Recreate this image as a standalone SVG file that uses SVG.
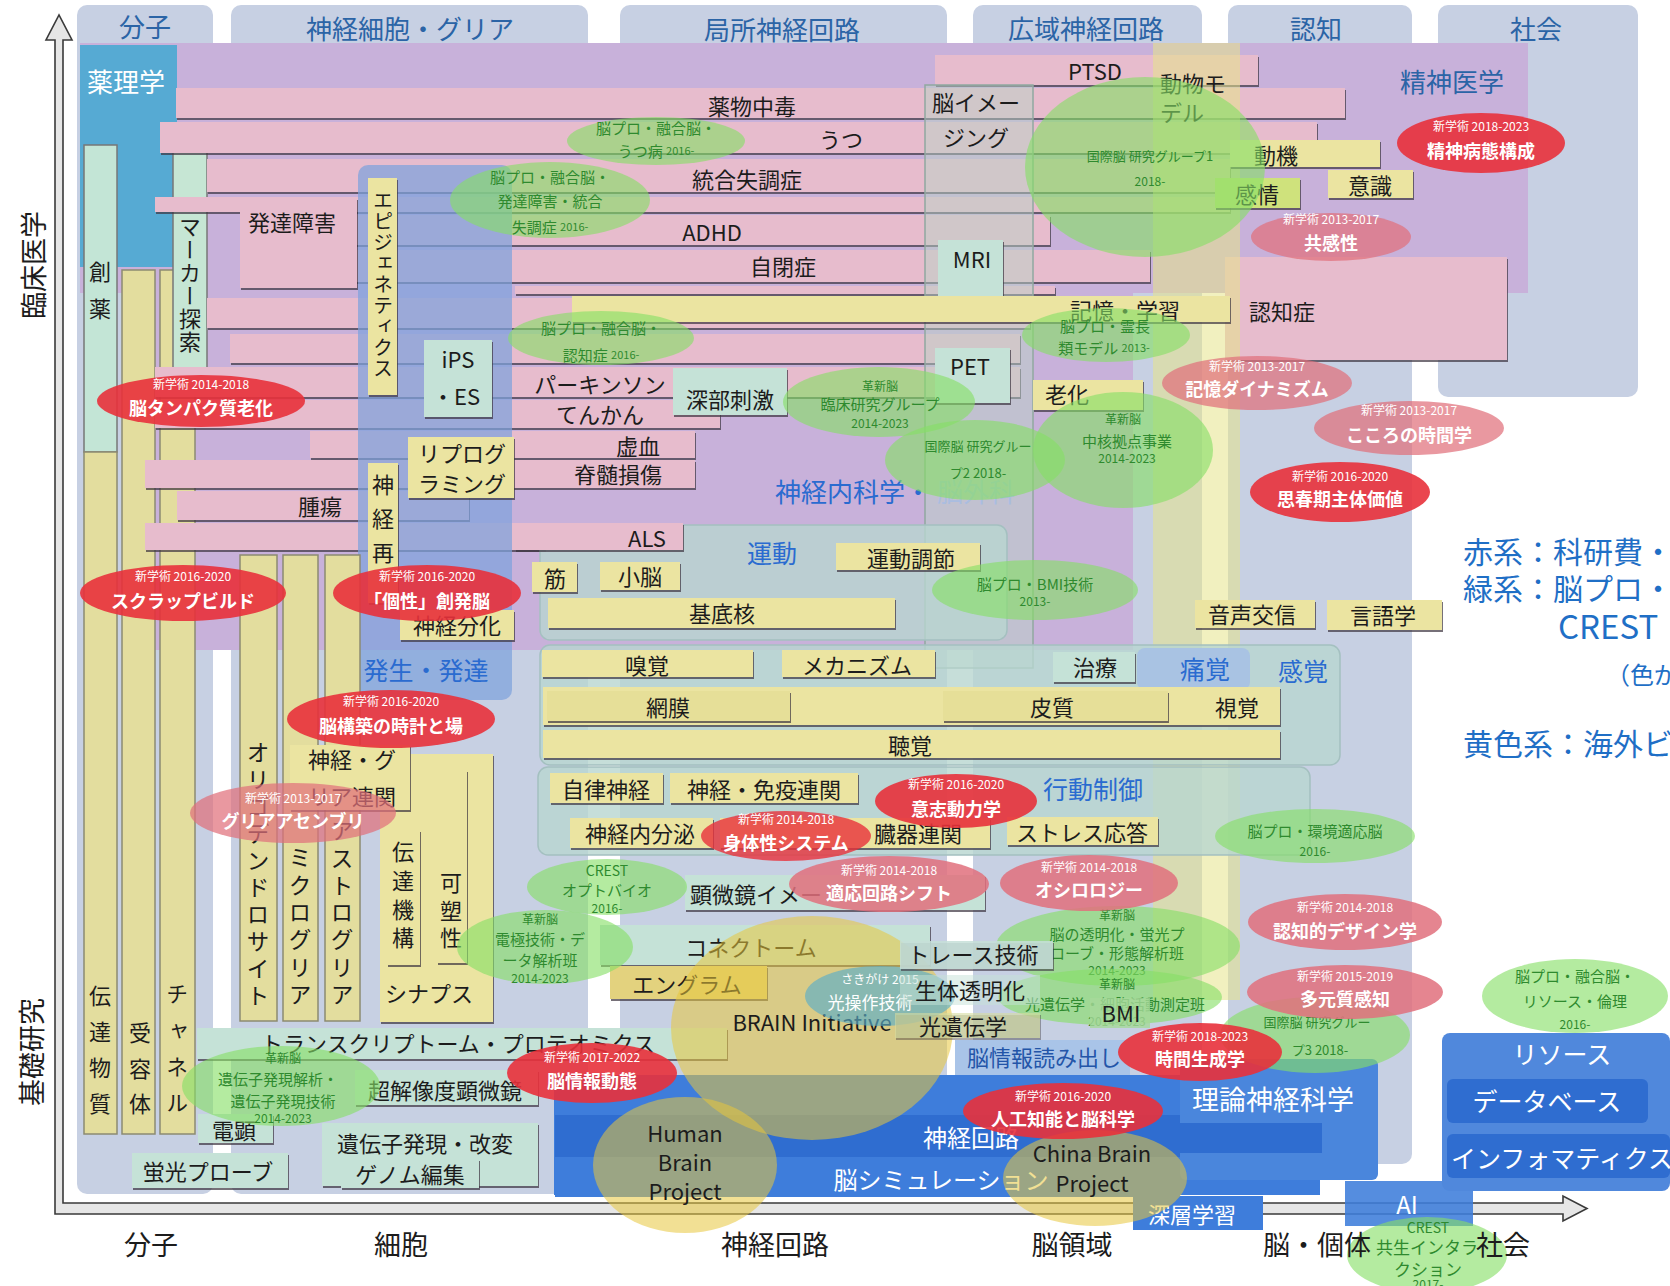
<svg xmlns="http://www.w3.org/2000/svg" width="1670" height="1286" viewBox="0 0 1670 1286">
<defs>
<filter id="sh" x="-10%" y="-30%" width="120%" height="170%">
<feDropShadow dx="1" dy="2" stdDeviation="0.7" flood-color="#3c3440" flood-opacity="0.7"/>
</filter>
</defs>
<style>
text{font-family:"Noto Sans CJK JP","Noto Sans",sans-serif}
.col{fill:#c7d0e3}
.hd{font-size:26px;fill:#2b64a6;text-anchor:middle;dominant-baseline:central}
.pk{fill:#e7bccd;filter:url(#sh)}
.yl{fill:#ebe4a1;filter:url(#sh)}
.yc{fill:#e3dd9e;stroke:#8c8a72;stroke-width:1.5}
.tl{fill:#c5e2d7;filter:url(#sh)}
.reg{fill:#b8d6cf;fill-opacity:.8;stroke:#a4c0c0;stroke-width:1.5}
.bb{fill:#3e7ddb}
.bd{fill:#2f6dd0}
.t{font-size:22px;fill:#1c1c1c;text-anchor:middle;dominant-baseline:central}
.v{font-size:22px;fill:#1c1c1c;writing-mode:vertical-rl}
.ax{font-size:27px;fill:#1c1c1c;text-anchor:middle;dominant-baseline:central}
.bl{font-size:25px;fill:#2a6bd0;text-anchor:middle;dominant-baseline:central}
.wt{font-size:24px;fill:#fff;text-anchor:middle;dominant-baseline:central}
.rd{fill:#e8313b;fill-opacity:.9}
.rf{fill:#e0707c;fill-opacity:.72}
.gr{fill:#86de66;fill-opacity:.62}
.ye{fill:#e8c63c;fill-opacity:.55}
.s{font-size:12px;fill:#fff;text-anchor:middle;dominant-baseline:central}
.m{font-size:18px;fill:#fff;font-weight:bold;text-anchor:middle;dominant-baseline:central}
.g{font-size:15px;fill:#2e8a2e;text-anchor:middle;dominant-baseline:central}
.gs{font-size:12px;fill:#2e8a2e;text-anchor:middle;dominant-baseline:central}
.lg{font-size:30px;fill:#1f6fc6;dominant-baseline:central}
</style>
<rect width="1670" height="1286" fill="#fff"/>

<g id="columns">
<rect class="col" x="77" y="5" width="136" height="1189" rx="10"/>
<rect class="col" x="231" y="5" width="357" height="1189" rx="10"/>
<rect class="col" x="620" y="5" width="327" height="1189" rx="10"/>
<rect class="col" x="973" y="5" width="229" height="1189" rx="10"/>
<rect class="col" x="1228" y="5" width="184" height="1159" rx="10"/>
<rect class="col" x="1438" y="5" width="200" height="392" rx="10"/>
<text class="hd" x="145" y="25">分子</text>
<text class="hd" x="410" y="27">神経細胞・グリア</text>
<text class="hd" x="782" y="28">局所神経回路</text>
<text class="hd" x="1086" y="27">広域神経回路</text>
<text class="hd" x="1316" y="27">認知</text>
<text class="hd" x="1536" y="27">社会</text>
</g>

<g id="psychiatry">
<path d="M80,43 H1528 V293 H1133 V650 H150 V293 H80 Z" fill="#c8b1da"/>
<text class="bl" x="1452" y="80" style="font-size:26px;fill:#2b64a6">精神医学</text>
</g>

<g id="pharmacology">
<rect x="80" y="45" width="97" height="222" fill="#56aad3"/>
<text x="126" y="80" font-size="26" fill="#fff" text-anchor="middle" dominant-baseline="central">薬理学</text>
</g>

<g id="left-columns">
<rect x="84" y="145" width="33" height="307" fill="#c3e5d6" stroke="#777" stroke-width="1.5"/>
<text class="v" x="100" y="261" style="letter-spacing:15px">創薬</text>
<rect class="yc" x="84" y="452" width="33" height="682"/>
<rect class="yc" x="122" y="270" width="33" height="864"/>
<rect class="yc" x="160" y="270" width="35" height="864"/>
<rect x="173" y="125" width="34" height="245" fill="#c6e6d4" stroke="#777" stroke-width="1.5"/>
<text class="v" x="190" y="216" style="letter-spacing:1px">マーカー探索</text>
<text class="v" x="100" y="985" style="letter-spacing:14px">伝達物質</text>
<text class="v" x="140" y="1022" style="letter-spacing:13.5px">受容体</text>
<text class="v" x="177" y="983" style="letter-spacing:14.3px">チャネル</text>
</g>

<g id="disease-bars">
<rect class="pk" x="176" y="88" width="1169" height="30"/>
<rect class="pk" x="160" y="122" width="1157" height="31"/>
<rect class="pk" x="207" y="159" width="1023" height="33"/>
<rect class="pk" x="155" y="197" width="1075" height="15"/>
<rect class="pk" x="240" y="215" width="810" height="30"/>
<rect class="pk" x="240" y="250" width="910" height="32"/>
<rect class="pk" x="515" y="286" width="540" height="8"/>
<rect class="pk" x="207" y="298" width="823" height="30"/>
<rect class="pk" x="230" y="334" width="790" height="29"/>
<rect class="pk" x="155" y="367" width="865" height="30"/>
<rect class="pk" x="155" y="400" width="565" height="28"/>
<rect class="pk" x="310" y="431" width="385" height="27"/>
<rect class="pk" x="145" y="460" width="550" height="28"/>
<rect class="pk" x="177" y="491" width="292" height="29"/>
<rect class="pk" x="145" y="523" width="400" height="27"/>
<rect class="pk" x="935" y="55" width="323" height="30"/>
<rect class="pk" x="1225" y="257" width="282" height="103"/>
<rect class="pk" x="240" y="198" width="117" height="90"/>
<text class="t" x="752" y="105">薬物中毒</text>
<text class="t" x="841" y="138">うつ</text>
<text class="t" x="747" y="178">統合失調症</text>
<text class="t" x="712" y="231">ADHD</text>
<text class="t" x="783" y="265">自閉症</text>
<text class="t" x="1095" y="70">PTSD</text>
<text class="t" x="1282" y="310">認知症</text>
<text class="t" x="292" y="221">発達障害</text>
<text class="t" x="600" y="383">パーキンソン</text>
<text class="t" x="600" y="413">てんかん</text>
<text class="t" x="638" y="445">虚血</text>
<text class="t" x="618" y="473">脊髄損傷</text>
<text class="t" x="320" y="505">腫瘍</text>
</g>

<g id="animal-model">
<rect x="1153" y="43" width="87" height="957" fill="#e6e48a" fill-opacity=".55"/>
<text class="t" x="1160" y="82" style="text-anchor:start">動物モ</text>
<text class="t" x="1160" y="111" style="text-anchor:start">デル</text>
</g>

<g id="brain-imaging">
<rect x="925" y="85" width="108" height="583" fill="#b9d2c6" fill-opacity=".5" stroke="#90a8a0" stroke-width="1.5"/>
<text class="t" x="976" y="101">脳イメー</text>
<text class="t" x="976" y="136">ジング</text>
<rect class="tl" x="938" y="240" width="65" height="60"/>
<text class="t" x="972" y="258">MRI</text>
<rect class="tl" x="935" y="348" width="75" height="55"/>
<text class="t" x="970" y="365">PET</text>
</g>

<g id="cognition-bars">
<rect class="yl" x="572" y="296" width="658" height="26"/>
<text class="t" x="1125" y="309">記憶・学習</text>
<rect class="yl" x="1033" y="380" width="110" height="30"/>
<text class="t" x="1067" y="393">老化</text>
<rect class="yl" x="1230" y="140" width="150" height="27"/>
<text class="t" x="1276" y="154">動機</text>
<rect class="yl" x="1328" y="170" width="85" height="28"/>
<text class="t" x="1370" y="184">意識</text>
<rect x="1215" y="178" width="85" height="30" fill="#cfe27c" filter="url(#sh)"/>
<text class="t" x="1257" y="193">感情</text>
<rect class="yl" x="1195" y="600" width="120" height="28"/>
<text class="t" x="1252" y="613">音声交信</text>
<rect class="yl" x="1327" y="600" width="115" height="30"/>
<text class="t" x="1383" y="614">言語学</text>
</g>

<g id="deep-stim">
<rect class="tl" x="673" y="368" width="114" height="47"/>
<text class="t" x="730" y="398">深部刺激</text>
</g>

<g id="development">
<rect x="358" y="165" width="154" height="535" rx="10" fill="#7ea2dc" fill-opacity=".72"/>
<rect class="yl" x="368" y="178" width="29" height="217"/>
<text class="v" x="383" y="190" style="font-size:20px;letter-spacing:1px">エピジェネティクス</text>
<rect class="tl" x="424" y="340" width="68" height="77"/>
<text class="t" x="458" y="358">iPS</text>
<text class="t" x="456" y="395">・ES</text>
<rect class="yl" x="408" y="437" width="106" height="61"/>
<text class="t" x="462" y="452">リプログ</text>
<text class="t" x="462" y="482">ラミング</text>
<rect class="yl" x="368" y="463" width="30" height="140"/>
<text class="v" x="383" y="474" style="letter-spacing:12px">神経再</text>
<rect class="yl" x="400" y="610" width="114" height="30"/>
<text class="t" x="457" y="624">神経分化</text>
<text class="bl" x="426" y="669">発生・発達</text>
</g>

<g id="neurology-label">
<text class="bl" x="775" y="490" style="text-anchor:start;font-size:26px">神経内科学・</text>
<text class="bl" x="937" y="490" style="text-anchor:start;font-size:26px;fill:#aabde0">脳外科</text>
</g>

<g id="motor">
<rect class="reg" x="540" y="525" width="467" height="115" rx="10"/>
<rect class="pk" x="515" y="523" width="168" height="27"/>
<text class="t" x="647" y="537">ALS</text>
<text class="bl" x="772" y="552">運動</text>
<rect class="yl" x="532" y="562" width="45" height="30"/>
<text class="t" x="555" y="577">筋</text>
<rect class="yl" x="600" y="562" width="80" height="28"/>
<text class="t" x="640" y="575">小脳</text>
<rect class="yl" x="548" y="598" width="347" height="30"/>
<text class="t" x="722" y="612">基底核</text>
<rect class="yl" x="836" y="543" width="144" height="27"/>
<text class="t" x="911" y="557">運動調節</text>
</g>

<g id="sensory">
<rect class="reg" x="540" y="645" width="800" height="120" rx="10"/>
<rect x="1137" y="648" width="113" height="42" rx="8" fill="#a9c3e3"/>
<text class="bl" x="1205" y="668">痛覚</text>
<text class="bl" x="1303" y="670">感覚</text>
<rect class="yl" x="542" y="650" width="211" height="27"/>
<text class="t" x="647" y="664">嗅覚</text>
<rect class="yl" x="782" y="650" width="153" height="27"/>
<text class="t" x="857" y="664">メカニズム</text>
<rect class="tl" x="1053" y="652" width="82" height="30"/>
<text class="t" x="1095" y="666">治療</text>
<rect class="yl" x="543" y="687" width="737" height="38"/>
<rect x="547" y="691" width="243" height="30" fill="#e6df98" filter="url(#sh)"/>
<rect x="943" y="691" width="225" height="30" fill="#e6df98" filter="url(#sh)"/>
<text class="t" x="668" y="706">網膜</text>
<text class="t" x="1052" y="706">皮質</text>
<text class="t" x="1237" y="706">視覚</text>
<rect class="yl" x="543" y="730" width="737" height="28"/>
<text class="t" x="910" y="744">聴覚</text>
</g>

<g id="behavior">
<rect class="reg" x="538" y="767" width="772" height="88" rx="10"/>
<text class="bl" x="1093" y="788">行動制御</text>
<rect class="yl" x="550" y="773" width="113" height="30"/>
<text class="t" x="606" y="788">自律神経</text>
<rect class="yl" x="670" y="773" width="188" height="30"/>
<text class="t" x="764" y="788">神経・免疫連関</text>
<rect class="yl" x="570" y="818" width="143" height="30"/>
<text class="t" x="640" y="832">神経内分泌</text>
<rect class="yl" x="720" y="818" width="270" height="30"/>
<text class="t" x="918" y="832">臓器連関</text>
<rect class="yl" x="1007" y="817" width="151" height="28"/>
<text class="t" x="1082" y="831">ストレス応答</text>
</g>

<g id="glia">
<rect class="yc" x="240" y="555" width="37" height="466"/>
<rect class="yc" x="283" y="555" width="35" height="466"/>
<rect class="yc" x="325" y="555" width="35" height="466"/>
<text class="v" x="258" y="741" style="font-size:23px;letter-spacing:4px">オリゴデンドロサイト</text>
<text class="v" x="300" y="846" style="font-size:23px;letter-spacing:4.4px">ミクログリア</text>
<text class="v" x="342" y="819" style="font-size:23px;letter-spacing:4.3px">アストログリア</text>
<rect class="yl" x="380" y="754" width="113" height="268"/>
<rect class="yl" x="290" y="745" width="120" height="65"/>
<text class="t" x="352" y="758">神経・グ</text>
<text class="t" x="352" y="795">リア連関</text>
<rect class="yl" x="387" y="830" width="33" height="135"/>
<text class="v" x="403" y="841" style="letter-spacing:6.7px">伝達機構</text>
<rect class="yl" x="437" y="770" width="30" height="193"/>
<text class="v" x="451" y="872" style="letter-spacing:5.5px">可塑性</text>
<text class="t" x="429" y="992">シナプス</text>
</g>

<g id="tech-rows">
<rect class="tl" x="685" y="875" width="300" height="35"/>
<text class="t" x="690" y="893" style="text-anchor:start">顕微鏡イメー</text>
<rect class="tl" x="600" y="925" width="330" height="40"/>
<text class="t" x="751" y="946">コネクトーム</text>
<rect x="610" y="966" width="157" height="33" fill="#e3d27e" filter="url(#sh)"/>
<text class="t" x="687" y="983">エングラム</text>
<rect class="tl" x="197" y="1028" width="530" height="31"/>
<text class="t" x="458" y="1042">トランスクリプトーム・プロテオミクス</text>
<rect class="tl" x="355" y="1070" width="183" height="35"/>
<text class="t" x="445" y="1089">超解像度顕微鏡</text>
<rect class="tl" x="322" y="1123" width="216" height="63"/>
<text class="t" x="425" y="1142">遺伝子発現・改変</text>
<rect class="tl" x="341" y="1159" width="138" height="29"/>
<text class="t" x="410" y="1173">ゲノム編集</text>
<rect class="tl" x="198" y="1114" width="75" height="29"/>
<text class="t" x="234" y="1129">電顕</text>
<rect class="tl" x="132" y="1153" width="156" height="35"/>
<text class="t" x="208" y="1170">蛍光プローブ</text>
</g>

<g id="axes">
<path d="M55,1214 L55,40 L46,40 L59,15 L72,40 L63,40 L63,1203 L1563,1203 L1563,1196 L1587,1208.5 L1563,1221 L1563,1214 Z" fill="#e6e6e6" stroke="#3a3a3a" stroke-width="1.6"/>
</g>

<g id="computation">
<rect class="bb" x="554" y="1075" width="766" height="120"/>
<rect class="bd" x="555" y="1115" width="767" height="42"/>
<rect class="bb" x="555" y="1160" width="625" height="37"/>
<text class="wt" x="923" y="1136" style="text-anchor:start">神経回路</text>
<text class="wt" x="941" y="1178">脳シミュレーション</text>
<rect x="1180" y="1059" width="198" height="121" rx="6" fill="#4a86dc"/>
<rect class="bd" x="1180" y="1123" width="142" height="30"/>
<text class="wt" x="1273" y="1098" style="font-size:27px">理論神経科学</text>
<rect x="955" y="1040" width="175" height="35" fill="#a9c4e8"/>
<text class="t" x="1044" y="1056" style="fill:#2355a8">脳情報読み出し</text>
<rect class="bb" x="1133" y="1196" width="130" height="34"/>
<text class="wt" x="1192" y="1213" style="font-size:22px">深層学習</text>
<rect x="1345" y="1181" width="128" height="45" fill="#3e7ddb" fill-opacity=".88"/>
<text class="wt" x="1407" y="1203">AI</text>
</g>

<g id="resource">
<rect x="1442" y="1033" width="228" height="158" rx="8" fill="#5088dc"/>
<text class="wt" x="1562" y="1053" style="font-size:25px">リソース</text>
<rect class="bd" x="1447" y="1079" width="201" height="44" rx="6"/>
<text class="wt" x="1547" y="1100" style="font-size:25px">データベース</text>
<rect class="bd" x="1447" y="1134" width="223" height="44" rx="6"/>
<text class="wt" x="1562" y="1157" style="font-size:25px">インフォマティクス</text>
</g>

<g id="overseas">
<ellipse class="ye" cx="812" cy="1028" rx="141" ry="112"/>
<ellipse class="ye" cx="685" cy="1165" rx="92" ry="68"/>
<ellipse class="ye" cx="1095" cy="1178" rx="92" ry="48"/>
<text class="t" x="812" y="1021">BRAIN Initiative</text>
<text class="t" x="685" y="1132">Human</text>
<text class="t" x="685" y="1161">Brain</text>
<text class="t" x="685" y="1190">Project</text>
<text class="t" x="1092" y="1152">China Brain</text>
<text class="t" x="1092" y="1182">Project</text>
</g>

<g id="green-projects">
<ellipse class="gr" cx="656" cy="141" rx="89" ry="24"/>
<text class="g" x="656" y="127">脳プロ・融合脳・</text>
<text class="g" x="656" y="150">うつ病 <tspan style="font-size:11px">2016-</tspan></text>
<ellipse class="gr" cx="550" cy="200" rx="100" ry="38"/>
<text class="g" x="550" y="176">脳プロ・融合脳・</text>
<text class="g" x="550" y="200">発達障害・統合</text>
<text class="g" x="550" y="226">失調症 <tspan style="font-size:11px">2016-</tspan></text>
<ellipse class="gr" cx="601" cy="338" rx="93" ry="27"/>
<text class="g" x="601" y="327">脳プロ・融合脳・</text>
<text class="g" x="601" y="354">認知症 <tspan style="font-size:11px">2016-</tspan></text>
<ellipse class="gr" cx="1145" cy="167" rx="120" ry="90"/>
<text class="gs" x="1150" y="155" style="font-size:13px">国際脳 研究グループ1</text>
<text class="gs" x="1150" y="180">2018-</text>
<ellipse class="gr" cx="1106" cy="335" rx="84" ry="27"/>
<text class="g" x="1105" y="325">脳プロ・霊長</text>
<text class="g" x="1104" y="347">類モデル <tspan style="font-size:11px">2013-</tspan></text>
<ellipse class="gr" cx="879" cy="402" rx="96" ry="35"/>
<text class="gs" x="880" y="385">革新脳</text>
<text class="g" x="880" y="403">臨床研究グループ</text>
<text class="gs" x="880" y="422">2014-2023</text>
<ellipse class="gr" cx="975" cy="460" rx="90" ry="40"/>
<text class="gs" x="978" y="445" style="font-size:13px">国際脳 研究グルー</text>
<text class="gs" x="978" y="472" style="font-size:13px">プ2 2018-</text>
<ellipse class="gr" cx="1123" cy="450" rx="90" ry="58"/>
<text class="gs" x="1123" y="418">革新脳</text>
<text class="g" x="1127" y="440">中核拠点事業</text>
<text class="gs" x="1127" y="457">2014-2023</text>
<ellipse class="gr" cx="1035" cy="590" rx="103" ry="30"/>
<text class="g" x="1035" y="583">脳プロ・BMI技術</text>
<text class="gs" x="1035" y="600">2013-</text>
<ellipse class="gr" cx="1315" cy="836" rx="100" ry="27"/>
<text class="g" x="1315" y="830">脳プロ・環境適応脳</text>
<text class="gs" x="1315" y="850">2016-</text>
<ellipse class="gr" cx="607" cy="887" rx="80" ry="28"/>
<text class="gs" x="607" y="870" style="font-size:14px">CREST</text>
<text class="g" x="607" y="889">オプトバイオ</text>
<text class="gs" x="607" y="907">2016-</text>
<ellipse class="gr" cx="545" cy="947" rx="88" ry="37"/>
<text class="gs" x="540" y="918">革新脳</text>
<text class="g" x="540" y="938">電極技術・デ</text>
<text class="g" x="540" y="959">ータ解析班</text>
<text class="gs" x="540" y="977">2014-2023</text>
<ellipse class="gr" cx="1118" cy="946" rx="122" ry="40"/>
<text class="gs" x="1117" y="914">革新脳</text>
<text class="g" x="1117" y="933">脳の透明化・蛍光プ</text>
<text class="g" x="1117" y="952">ローブ・形態解析班</text>
<text class="gs" x="1117" y="969">2014-2023</text>
<ellipse class="gr" cx="1110" cy="997" rx="112" ry="28"/>
<text class="gs" x="1117" y="983">革新脳</text>
<text class="g" x="1115" y="1003">光遺伝学・細胞活動測定班</text>
<text class="gs" x="1117" y="1020">2014-2023</text>
<ellipse class="gr" cx="1315" cy="1035" rx="95" ry="38"/>
<text class="gs" x="1317" y="1021" style="font-size:13px">国際脳 研究グルー</text>
<text class="gs" x="1320" y="1049" style="font-size:13px">プ3 2018-</text>
<ellipse class="gr" cx="281" cy="1086" rx="99" ry="40"/>
<text class="gs" x="283" y="1057">革新脳</text>
<text class="g" x="278" y="1078">遺伝子発現解析・</text>
<text class="g" x="283" y="1100">遺伝子発現技術</text>
<text class="gs" x="283" y="1117">2014-2023</text>
<ellipse class="gr" cx="1575" cy="996" rx="93" ry="37"/>
<text class="g" x="1575" y="975">脳プロ・融合脳・</text>
<text class="g" x="1575" y="1000">リソース・倫理</text>
<text class="gs" x="1575" y="1023">2016-</text>
<ellipse class="gr" cx="1427" cy="1255" rx="80" ry="38"/>
<text class="gs" x="1428" y="1227" style="font-size:14px">CREST</text>
<text class="g" x="1427" y="1246" style="font-size:17px">共生インタラ</text>
<text class="g" x="1428" y="1268" style="font-size:17px">クション</text>
<text class="gs" x="1428" y="1283">2017-</text>
</g>

<g id="sakigake">
<ellipse cx="880" cy="996" rx="75" ry="30" fill="#5aaec8" fill-opacity=".65"/>
<text class="s" x="880" y="978">さきがけ 2015</text>
<text class="m" x="870" y="1001" style="font-size:17px;font-weight:normal">光操作技術</text>
</g>

<g id="tech-boxes">
<rect x="900" y="941" width="153" height="28" fill="#c5dfd8" fill-opacity=".85" filter="url(#sh)"/>
<text class="t" x="973" y="953">トレース技術</text>
<rect x="900" y="975" width="140" height="30" fill="#c5e2d7" fill-opacity=".5"/>
<text class="t" x="970" y="989">生体透明化</text>
<rect x="895" y="1013" width="145" height="25" fill="#d6dca0" fill-opacity=".6" filter="url(#sh)"/>
<text class="t" x="963" y="1025">光遺伝学</text>
<rect x="1090" y="998" width="60" height="30" fill="#a6d89a" fill-opacity=".8"/>
<text class="t" x="1121" y="1012">BMI</text>
</g>

<g id="kakenhi">
<ellipse class="rd" cx="201" cy="401" rx="104" ry="26"/>
<text class="s" x="201" y="383">新学術 2014-2018</text>
<text class="m" x="201" y="407">脳タンパク質老化</text>
<ellipse class="rd" cx="183" cy="593" rx="103" ry="28"/>
<text class="s" x="183" y="575">新学術 2016-2020</text>
<text class="m" x="183" y="600">スクラップビルド</text>
<ellipse class="rd" cx="427" cy="593" rx="94" ry="28"/>
<text class="s" x="427" y="575">新学術 2016-2020</text>
<text class="m" x="427" y="600">「個性」創発脳</text>
<ellipse class="rd" cx="391" cy="719" rx="104" ry="29"/>
<text class="s" x="391" y="700">新学術 2016-2020</text>
<text class="m" x="391" y="725">脳構築の時計と場</text>
<ellipse class="rf" cx="293" cy="813" rx="103" ry="30"/>
<text class="s" x="293" y="797">新学術 2013-2017</text>
<text class="m" x="293" y="820">グリアアセンブリ</text>
<ellipse class="rd" cx="1481" cy="143" rx="84" ry="30"/>
<text class="s" x="1481" y="125">新学術 2018-2023</text>
<text class="m" x="1481" y="150">精神病態構成</text>
<ellipse class="rf" cx="1331" cy="237" rx="80" ry="24"/>
<text class="s" x="1331" y="218">新学術 2013-2017</text>
<text class="m" x="1331" y="242">共感性</text>
<ellipse class="rf" cx="1257" cy="383" rx="95" ry="27"/>
<text class="s" x="1257" y="365">新学術 2013-2017</text>
<text class="m" x="1257" y="388">記憶ダイナミズム</text>
<ellipse class="rf" cx="1409" cy="428" rx="95" ry="27"/>
<text class="s" x="1409" y="409">新学術 2013-2017</text>
<text class="m" x="1409" y="434">こころの時間学</text>
<ellipse class="rd" cx="1340" cy="492" rx="90" ry="30"/>
<text class="s" x="1340" y="475">新学術 2016-2020</text>
<text class="m" x="1340" y="498">思春期主体価値</text>
<ellipse class="rd" cx="956" cy="801" rx="81" ry="27"/>
<text class="s" x="956" y="783">新学術 2016-2020</text>
<text class="m" x="956" y="808">意志動力学</text>
<ellipse class="rd" cx="786" cy="836" rx="85" ry="25" style="fill-opacity:.8"/>
<text class="s" x="786" y="818">新学術 2014-2018</text>
<text class="m" x="786" y="842">身体性システム</text>
<ellipse class="rf" cx="889" cy="884" rx="100" ry="28" style="fill-opacity:.85"/>
<text class="s" x="889" y="869">新学術 2014-2018</text>
<text class="m" x="889" y="892">適応回路シフト</text>
<ellipse class="rf" cx="1089" cy="883" rx="89" ry="28" style="fill-opacity:.85"/>
<text class="s" x="1089" y="866">新学術 2014-2018</text>
<text class="m" x="1089" y="889">オシロロジー</text>
<ellipse class="rf" cx="1345" cy="922" rx="97" ry="28" style="fill-opacity:.85"/>
<text class="s" x="1345" y="906">新学術 2014-2018</text>
<text class="m" x="1345" y="930">認知的デザイン学</text>
<ellipse class="rf" cx="1345" cy="992" rx="98" ry="27" style="fill-opacity:.85"/>
<text class="s" x="1345" y="975">新学術 2015-2019</text>
<text class="m" x="1345" y="998">多元質感知</text>
<ellipse class="rd" cx="1200" cy="1052" rx="82" ry="29"/>
<text class="s" x="1200" y="1035">新学術 2018-2023</text>
<text class="m" x="1200" y="1058">時間生成学</text>
<ellipse class="rd" cx="1063" cy="1111" rx="100" ry="28"/>
<text class="s" x="1063" y="1095">新学術 2016-2020</text>
<text class="m" x="1063" y="1118">人工知能と脳科学</text>
<ellipse class="rd" cx="592" cy="1073" rx="85" ry="30"/>
<text class="s" x="592" y="1056">新学術 2017-2022</text>
<text class="m" x="592" y="1080">脳情報動態</text>
</g>

<g id="axis-labels">
<text class="ax" x="32" y="265" transform="rotate(-90 32 265)">臨床医学</text>
<text class="ax" x="30" y="1052" transform="rotate(-90 30 1052)">基礎研究</text>
<text class="ax" x="151" y="1243">分子</text>
<text class="ax" x="401" y="1243">細胞</text>
<text class="ax" x="775" y="1243">神経回路</text>
<text class="ax" x="1072" y="1243">脳領域</text>
<text class="ax" x="1317" y="1243">脳・個体</text>
<text class="ax" x="1503" y="1243">社会</text>
</g>

<g id="legend">
<text class="lg" x="1463" y="550">赤系：科研費・</text>
<text class="lg" x="1463" y="587">緑系：脳プロ・</text>
<text class="lg" x="1558" y="625" style="font-size:33px">CREST</text>
<text class="lg" x="1606" y="673" style="font-size:24px">（色が</text>
<text class="lg" x="1463" y="742">黄色系：海外ビ</text>
</g>
</svg>
